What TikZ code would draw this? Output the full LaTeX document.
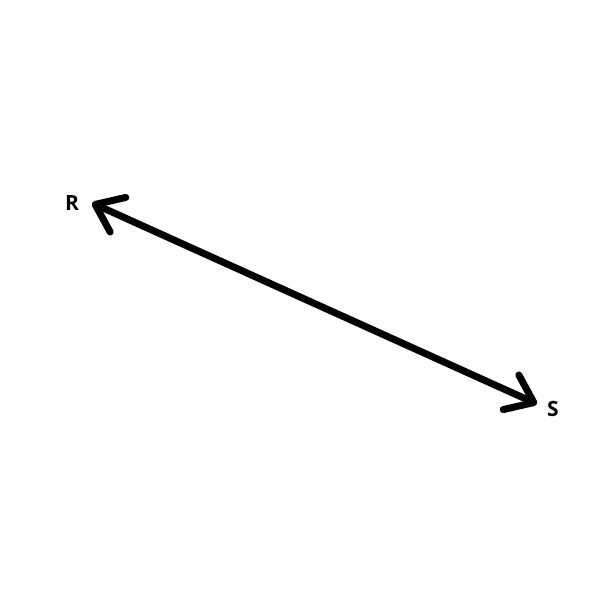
\documentclass[tikz,border=0pt]{standalone}
\usepackage{fontspec}
\setmainfont{Open Sans}
\usetikzlibrary{arrows.meta}
\begin{document}
\begin{tikzpicture}[x=1pt,y=-1pt,
  lbl/.style={font=\fontsize{21}{24}\selectfont\bfseries, inner sep=0pt},
  conn/.style={line width=7pt, line cap=round,
    {Straight Barb[length=25pt,width=38pt,round]}-{Straight Barb[length=25pt,width=38pt,round]}}]
\useasboundingbox (0,0) rectangle (600,600);
\coordinate (Rt) at (92,203);
\coordinate (St) at (537,404);
\node[lbl] (R) at (72,203) {R};
\node[lbl] (S) at (553,409) {S};
\draw[conn] (Rt) -- (St);
\end{tikzpicture}
\end{document}
